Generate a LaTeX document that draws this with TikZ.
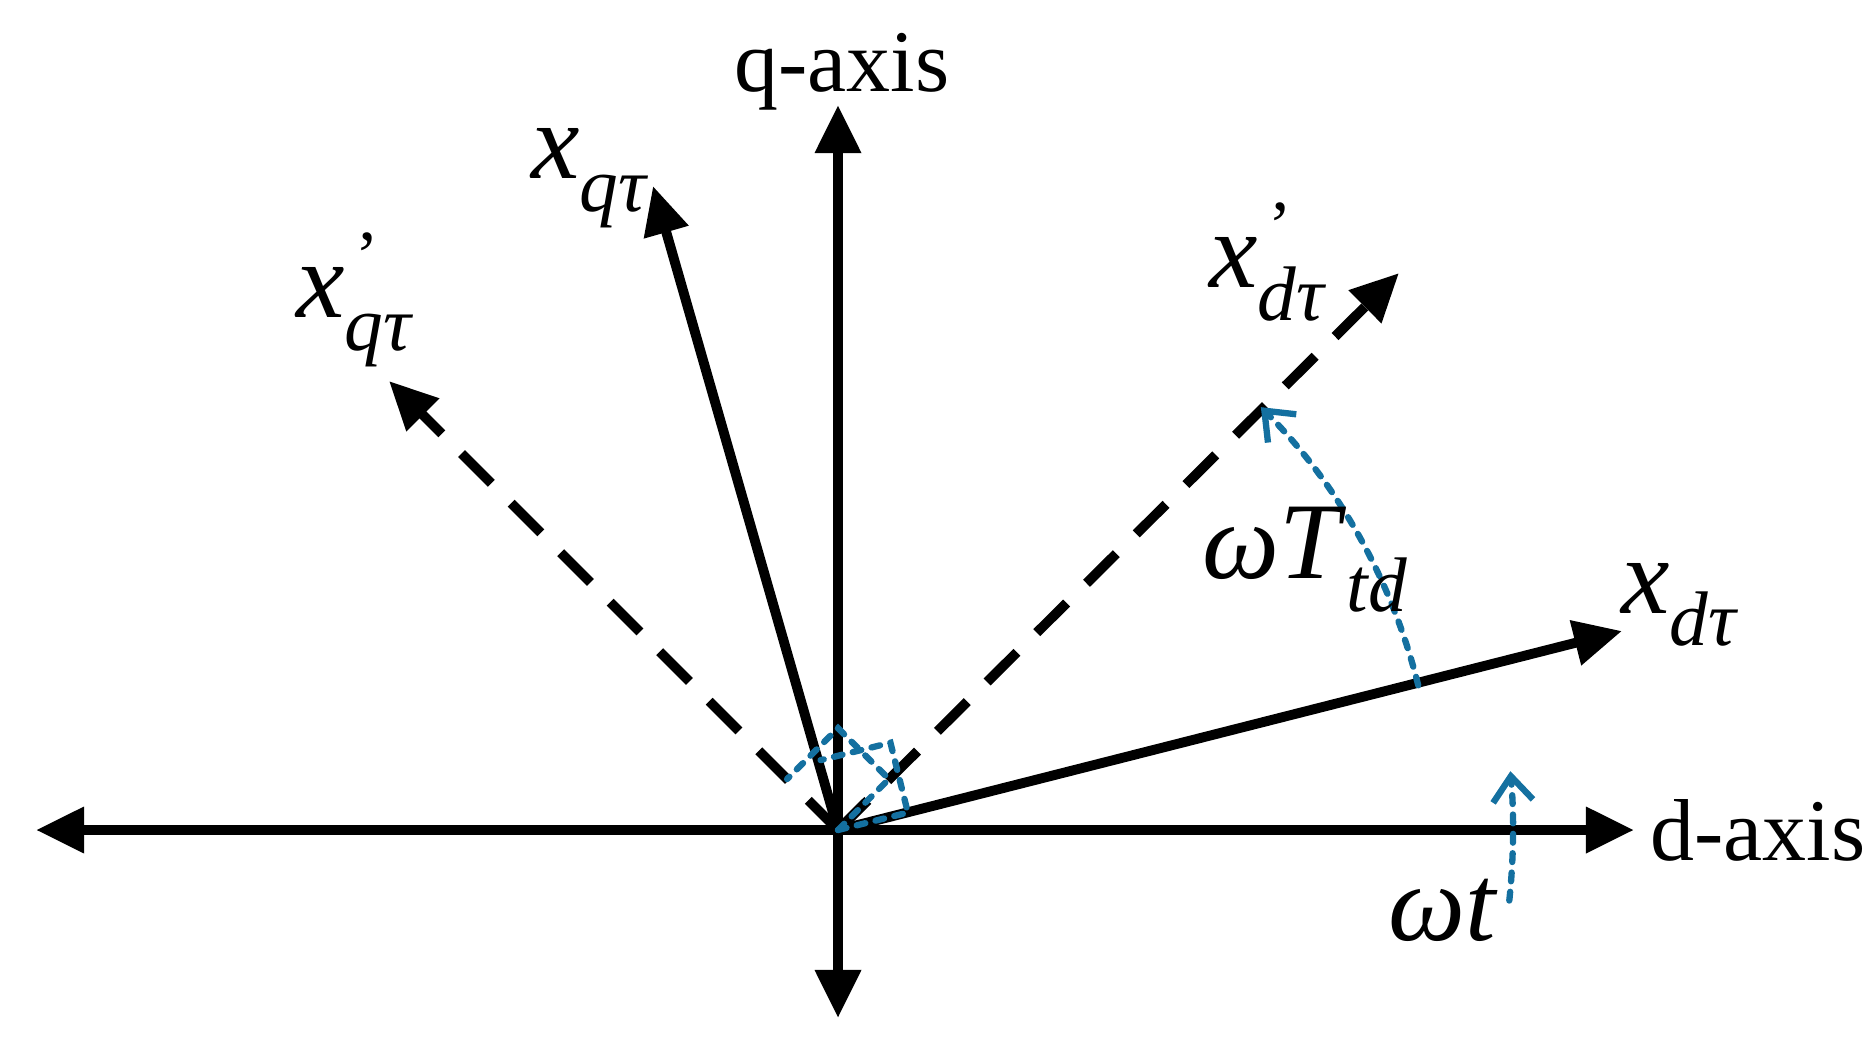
\documentclass[tikz,border=0pt]{standalone}
\usepackage{fontspec}
\setmainfont{Liberation Serif}
\usetikzlibrary{arrows.meta}
\definecolor{bl}{RGB}{20,112,160}
\newcommand{\vlab}[3]{\fontsize{31}{31}\selectfont\textit{x}\makebox[0pt][l]{\raisebox{0.35em}{\fontsize{20}{20}\selectfont\kern3pt #1}}\raisebox{-0.3em}{\fontsize{22}{22}\selectfont\textit{#2#3}}}
\begin{document}
\begin{tikzpicture}[x=0.01cm,y=-0.01cm,
 ax/.style={line width=2.8pt,-{Triangle[length=0.48cm,width=0.44cm]}},
 dsh/.style={ax,dash pattern=on 0.42cm off 0.28cm},
 arc/.style={bl,line width=1.8pt,dash pattern=on 2.5pt off 3pt,line cap=round},
 lab/.style={font=\fontsize{25}{25}\selectfont}]
\useasboundingbox (0,0) rectangle (1868,1063);
\coordinate (O) at (838,830);
\coordinate (dR) at (1634,830); \coordinate (dL) at (36,830);
\coordinate (qT) at (838,105); \coordinate (qB) at (838,1018);
\coordinate (xd) at (1622,631); \coordinate (xdp) at (1399,273);
\coordinate (xq) at (653,186); \coordinate (xqp) at (389,381);
\draw[ax] (O)--(dR); \draw[ax] (O)--(dL);
\draw[ax] (O)--(qT); \draw[ax] (O)--(qB);
\draw[ax] (O)--(xd); \draw[ax] (O)--(xq);
\draw[dsh] (O)--(xdp); \draw[dsh] (O)--(xqp);
% right angle marks
\draw[arc] (O) -- ++(-45:72) -- ++(-135:72) -- ++(-225:72);
\draw[arc] (O) -- ++(-14:72) -- ++(-104:72) -- ++(-194:72);
% angle arcs
\draw[arc,-{Straight Barb[length=0.25cm,width=0.4cm]}] ([shift={(-14:598)}]O) arc[start angle=-14,end angle=-45,radius=598];
\draw[arc,-{Straight Barb[length=0.25cm,width=0.4cm]}] ([shift={(6:675)}]O) arc[start angle=6,end angle=-5,radius=675];
\node[lab] (qa) at (842,72) {q-axis};
\node[lab,anchor=west] (da) at (1638,830) {d-axis};
\node (l1) at (590,178) {\vlab{}{q}{τ}};
\node (l2) at (355,300) {\vlab{'}{q}{τ}};
\node (l3) at (1268,262) {\vlab{'}{d}{τ}};
\node (l4) at (1680,605) {\vlab{}{d}{τ}};
\node (l5) at (1305,560) {\fontsize{31}{31}\selectfont\textit{ωT}\raisebox{-0.3em}{\fontsize{22}{22}\selectfont\textit{td}}};
\node (l6) at (1443,910) {\fontsize{31}{31}\selectfont\textit{ωt}};
\end{tikzpicture}
\end{document}
